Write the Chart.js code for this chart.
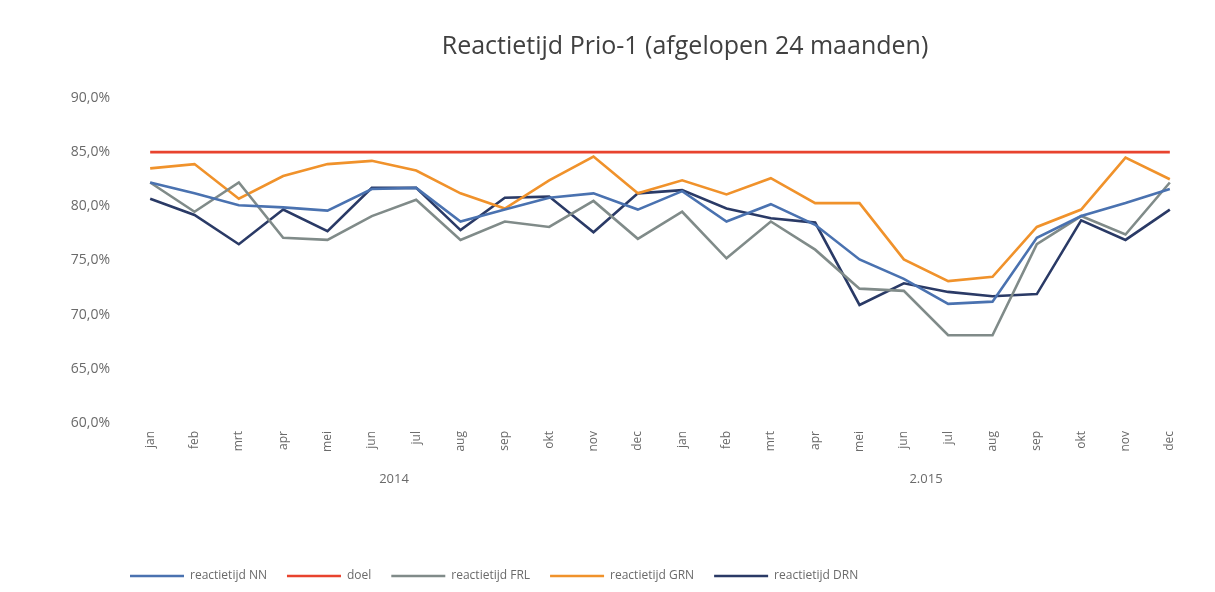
<!DOCTYPE html>
<html>
<head>
<meta charset="utf-8">
<script src="https://cdn.jsdelivr.net/npm/chart.js@4/dist/chart.umd.min.js"></script>
<style>
  html, body { margin: 0; padding: 0; background: #ffffff; }
  #wrap { width: 1215px; height: 592px; position: relative; }
</style>
</head>
<body>
<div id="wrap"><canvas id="c" width="1215" height="592"></canvas></div>
<script>
const TITLE = 'Reactietijd Prio-1 (afgelopen 24 maanden)';
const months = ['jan','feb','mrt','apr','mei','jun','jul','aug','sep','okt','nov','dec',
                'jan','feb','mrt','apr','mei','jun','jul','aug','sep','okt','nov','dec'];
const years = ['2014', '2.015'];
const yTicks = [60, 65, 70, 75, 80, 85, 90];

const seriesNames = ['reactietijd NN', 'doel', 'reactietijd FRL', 'reactietijd GRN', 'reactietijd DRN'];

const valuesNN  = [82.2, 81.2, 80.1, 79.9, 79.6, 81.6, 81.7, 78.6, 79.7, 80.8, 81.2, 79.7,
                   81.4, 78.6, 80.2, 78.3, 75.1, 73.3, 71.0, 71.2, 77.1, 79.1, 80.3, 81.6];
const valuesDoel = [85, 85, 85, 85, 85, 85, 85, 85, 85, 85, 85, 85,
                    85, 85, 85, 85, 85, 85, 85, 85, 85, 85, 85, 85];
const valuesFRL = [82.2, 79.5, 82.2, 77.1, 76.9, 79.1, 80.6, 76.9, 78.6, 78.1, 80.5, 77.0,
                   79.5, 75.2, 78.6, 76.0, 72.4, 72.2, 68.1, 68.1, 76.5, 79.1, 77.4, 82.2];
const valuesGRN = [83.5, 83.9, 80.7, 82.8, 83.9, 84.2, 83.3, 81.2, 79.8, 82.4, 84.6, 81.2,
                   82.4, 81.1, 82.6, 80.3, 80.3, 75.1, 73.1, 73.5, 78.1, 79.7, 84.5, 82.5];
const valuesDRN = [80.7, 79.2, 76.5, 79.7, 77.7, 81.7, 81.7, 77.8, 80.8, 80.9, 77.6, 81.2,
                   81.5, 79.8, 78.9, 78.5, 70.9, 72.9, 72.1, 71.7, 71.9, 78.7, 76.9, 79.7];

const colors = ['#4a72b0', '#e8432e', '#808b89', '#f0922b', '#2a3a66'];
const allValues = [valuesNN, valuesDoel, valuesFRL, valuesGRN, valuesDRN];

const FONT = 'Open Sans';
const TEXT = '#6a6a6a';

// shifts the title and legend boxes horizontally after layout
const shiftPlugin = {
  id: 'shiftBoxes',
  afterLayout(chart) {
    if (chart.titleBlock) { chart.titleBlock.left += 89; chart.titleBlock.right += 89; }
    if (chart.legend) { chart.legend.left += 110; chart.legend.right += 110; }
  }
};

new Chart(document.getElementById('c'), {
  type: 'line',
  data: {
    labels: months,
    datasets: seriesNames.map((name, i) => ({
      label: name,
      data: allValues[i],
      borderColor: colors[i],
      backgroundColor: colors[i],
      borderWidth: 2.6,
      pointRadius: 0,
      pointHoverRadius: 0,
      tension: 0,
      fill: false
    }))
  },
  options: {
    responsive: false,
    animation: false,
    layout: { padding: { left: 0, right: 23, top: 0, bottom: 0 } },
    plugins: {
      title: {
        display: true,
        text: TITLE,
        color: '#404040',
        font: { family: FONT, size: 25, weight: 'normal' },
        padding: { top: 32, bottom: 36 }
      },
      legend: {
        position: 'bottom',
        align: 'start',
        labels: {
          usePointStyle: true,
          pointStyle: 'line',
          pointStyleWidth: 54,
          padding: 20,
          color: TEXT,
          font: { family: FONT, size: 12 }
        }
      },
      tooltip: { enabled: false }
    },
    scales: {
      x: {
        type: 'category',
        offset: true,
        grid: { display: false, drawTicks: false },
        border: { display: false },
        ticks: {
          minRotation: 90, maxRotation: 90, padding: 8,
          color: TEXT, font: { family: FONT, size: 12 }, autoSkip: false
        },
        afterFit: (s) => { s.height = 44; }
      },
      x2: {
        type: 'category',
        labels: years,
        position: 'bottom',
        offset: true,
        weight: 1,
        grid: { display: false, drawTicks: false },
        border: { display: false },
        ticks: { padding: 4, maxRotation: 0, color: TEXT, font: { family: FONT, size: 13 } },
        afterFit: (s) => { s.height = 83; }
      },
      y: {
        min: 60, max: 90,
        afterBuildTicks: (s) => { s.ticks = yTicks.map(v => ({ value: v })); },
        grid: { display: false, drawTicks: false },
        border: { display: false },
        ticks: {
          padding: 18, color: TEXT, font: { family: FONT, size: 14 },
          callback: (v) => v.toFixed(1).replace('.', ',') + '%'
        },
        afterFit: (s) => { s.width = 128; }
      }
    }
  },
  plugins: [shiftPlugin]
});
</script>
</body>
</html>
